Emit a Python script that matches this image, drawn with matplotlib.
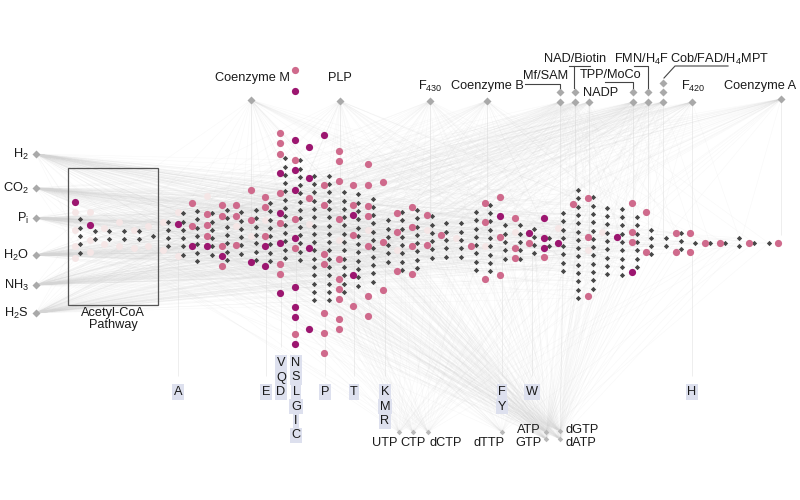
import matplotlib
matplotlib.use('Agg')
import matplotlib.pyplot as plt
from matplotlib.collections import LineCollection
from matplotlib.patches import Rectangle

plt.rcParams['font.family'] = ['Liberation Sans', 'DejaVu Sans']
plt.rcParams['mathtext.fontset'] = 'custom'
plt.rcParams['mathtext.rm'] = 'Liberation Sans'
plt.rcParams['mathtext.it'] = 'Liberation Sans:italic'

# ---------------- data ----------------
# reactions per step column (diamonds) and vertical centre of each column
reaction_counts = [5, 2, 2, 2, 2, 1, 4, 6, 7, 6, 7, 6, 7, 8, 13, 13, 16, 16, 13, 12,
                   11, 6, 8, 8, 6, 5, 5, 8, 9, 5, 5, 4, 2, 8, 14, 12, 9, 9, 7, 4,
                   2, 3, 1, 1, 1, 2, 1, 1]
reaction_centers = [236, 235, 235, 235, 235, 236, 234, 234, 236, 234, 235, 233, 235, 232, 208, 210,
                    238, 238, 242, 240, 240, 241, 241, 239, 237, 240, 240, 241, 238, 242, 242, 241,
                    242, 242, 244, 243, 241, 242, 242, 242, 242, 241, 243, 243, 243, 242, 243, 243]

# compounds (circles) per column: y levels
pink_nodes = {8: [203, 226], 9: [214, 225, 236], 10: [205, 216, 246, 266], 11: [205, 216, 245],
              12: [190, 220], 13: [197, 207, 236], 14: [133, 143, 154, 193, 223, 264, 274],
              15: [70, 160, 219, 248, 334], 16: [198], 17: [185, 205, 254, 264, 313, 333, 353],
              18: [151, 161, 181, 219, 259, 279, 289, 299, 319, 329], 19: [185, 205, 235, 306],
              20: [164, 185, 206, 216, 246, 296, 316], 21: [182, 242, 290], 22: [213, 232, 271],
              23: [207, 227, 246, 274], 24: [215, 245], 25: [235], 27: [246], 28: [203, 222, 279],
              29: [197, 237, 275], 30: [218, 248, 258], 31: [243], 32: [257], 34: [204],
              35: [198, 237, 296], 38: [203, 232, 242], 39: [212, 252], 41: [233, 252],
              42: [233, 252], 43: [243], 44: [243], 46: [243], 48: [243]}
magenta_nodes = {0: [202], 1: [225], 7: [224], 8: [246], 9: [246], 10: [256], 12: [262],
                 13: [246, 266], 14: [173, 213, 243, 293],
                 15: [91, 140, 170, 190, 238, 287, 307, 317, 344], 16: [147, 178, 248, 329],
                 17: [135], 19: [215, 275], 29: [216], 31: [233], 32: [218, 238, 248], 33: [243],
                 37: [237], 38: [272]}
faint_nodes = {0: [212, 230, 246, 258], 1: [212, 240, 252], 2: [228, 244], 3: [222, 246],
               4: [230, 248], 5: [226, 246], 6: [222, 250], 7: [212, 256], 9: [196], 11: [226],
               12: [236], 13: [220], 16: [224], 18: [240], 20: [230], 22: [250], 24: [230],
               26: [238], 28: [246], 30: [232], 33: [228], 35: [250], 36: [232]}

# inorganic substrates (left)
left_labels = ['H$_2$', 'CO$_2$', 'P$_\\mathrm{i}$', 'H$_2$O', 'NH$_3$', 'H$_2$S']
left_y = [154, 188, 218, 255, 285, 313]

# cofactors (top)
top_labels = ['Coenzyme M', 'PLP', 'F$_{430}$', 'Coenzyme B', 'F$_{420}$', 'Coenzyme A']
top_node_x = [251, 340, 430, 487, 692, 781]
top_node_y = [100, 101, 101, 101, 102, 99]
group_labels = ['Mf/SAM', 'NAD/Biotin', 'NADP', 'TPP/MoCo', 'FMN/H$_4$F', 'Cob/FAD/H$_4$MPT']
group_node_x = [560, 575, 589, 633, 648, 663]
group_node_n = [2, 2, 1, 2, 2, 3]

# amino acids (bottom)
aa_letters = ['A', 'E', 'V', 'Q', 'D', 'N', 'S', 'L', 'G', 'I', 'C', 'P', 'T', 'K', 'M', 'R',
              'F', 'Y', 'W', 'H']
aa_x = [178, 266, 281, 281, 281, 296, 296, 296, 296, 296, 296, 325, 354, 385, 385, 385,
        502, 502, 532, 692]
aa_row = [2, 2, 0, 1, 2, 0, 1, 2, 3, 4, 5, 2, 2, 2, 3, 4, 2, 3, 2, 2]

# nucleotides (bottom)
nt_labels = ['UTP', 'CTP', 'dCTP', 'dTTP', 'ATP', 'GTP', 'dGTP', 'dATP']
nt_node_x = [399, 413, 428, 502, 546, 546, 560, 560]
nt_node_y = [432, 432, 432, 432, 432, 439, 431, 439]

# ---------------- styles ----------------
X0, DX = 80.0, 14.65
VSP = 8.3
DIA_C = '#474747'
PINK = '#cf6a8c'
MAG = '#9c1670'
FAINT = '#f5e6e6'
SRC = '#a9a9a9'
EDGE = '#d4d4d4'
FS = 9.2

fig = plt.figure(figsize=(8, 5), dpi=100)
ax = fig.add_axes([0, 0, 1, 1])
ax.set_xlim(0, 800)
ax.set_ylim(500, 0)
ax.axis('off')

def colx(i):
    return X0 + DX * i

# reaction node coordinates
rx, ry = [], []
for i, (n, c) in enumerate(zip(reaction_counts, reaction_centers)):
    for k in range(n):
        rx.append(colx(i))
        ry.append(c + (k - (n - 1) / 2) * VSP)

# ---------------- edges ----------------
segs = []
N = len(rx)
for s, y in enumerate(left_y):
    for j in range(s % 3, N, 3):
        segs.append([(36, y), (rx[j], ry[j])])
top_pts = list(zip(top_node_x, top_node_y))
for gx, gn in zip(group_node_x, group_node_n):
    top_pts.append((gx, 102))
for s, (tx, ty) in enumerate(top_pts):
    for j in range(s % 9, N, 9):
        segs.append([(tx, ty), (rx[j], ry[j])])
for s, (nx, ny) in enumerate(zip(nt_node_x, nt_node_y)):
    step = 5 if nx in (546, 560) else 12
    for j in range(s % step, N, step):
        segs.append([(nx, ny), (rx[j], ry[j])])
ax.add_collection(LineCollection(segs, colors=EDGE, linewidths=0.4, alpha=0.16, zorder=1))

# vertical guide lines from amino acids and cofactors
vsegs = []
for x in sorted(set(aa_x)):
    rows = [r for xx, r in zip(aa_x, aa_row) if xx == x]
    vsegs.append([(x, 355 + 14.5 * min(rows) - 8), (x, 250)])
for x, y in zip(top_node_x, top_node_y):
    vsegs.append([(x, y + 4), (x, 235)])
for x in group_node_x:
    vsegs.append([(x, 106), (x, 240)])
ax.add_collection(LineCollection(vsegs, colors='#d8d8d8', linewidths=0.6, alpha=0.5, zorder=1))

# ---------------- nodes ----------------
for c, ys in faint_nodes.items():
    ax.plot([colx(c) - 5] * len(ys), ys, 'o', ms=5, color=FAINT, mec='none', zorder=2)
ax.plot(rx, ry, 'D', ms=2.7, color=DIA_C, mec='none', zorder=3)
for c, ys in pink_nodes.items():
    ax.plot([colx(c) - 5] * len(ys), ys, 'o', ms=5.2, color=PINK, mec='none', zorder=4)
for c, ys in magenta_nodes.items():
    ax.plot([colx(c) - 5] * len(ys), ys, 'o', ms=5.2, color=MAG, mec='none', zorder=4)

# left substrates
ax.plot([36] * len(left_y), left_y, 'D', ms=3.8, color=SRC, mec='none', zorder=3)
for lab, y in zip(left_labels, left_y):
    ax.text(29, y, lab, ha='right', va='center', fontsize=FS, color='#1a1a1a')

# acetyl-CoA box
ax.add_patch(Rectangle((68, 168), 90, 137, fill=False, ec='#555555', lw=0.9, zorder=5))
ax.text(113, 319, 'Acetyl-CoA\nPathway', ha='center', va='center', fontsize=FS,
        linespacing=1.0, color='#1a1a1a')

# top cofactors
ax.plot(top_node_x, top_node_y, 'D', ms=3.8, color=SRC, mec='none', zorder=3)
top_text_pos = [(252, 78), (340, 78), (430, 86), (487, 86), (693, 86), (760, 86)]
for lab, (tx, ty) in zip(top_labels, top_text_pos):
    ax.text(tx, ty, lab, ha='center', va='center', fontsize=FS, color='#1a1a1a')
for gx, gn in zip(group_node_x, group_node_n):
    ys = [102, 92, 83][:gn]
    ax.plot([gx] * gn, ys, 'D', ms=3.8, color=SRC, mec='none', zorder=3)
grp_text_pos = [(546, 76, 'center'), (575, 59, 'center'), (583, 93, 'left'),
                (611, 75, 'center'), (642, 59, 'center'), (720, 59, 'center')]
for lab, (tx, ty, ha) in zip(group_labels, grp_text_pos):
    ax.text(tx, ty, lab, ha=ha, va='center', fontsize=FS, color='#1a1a1a')
callouts = [[(525, 84), (560, 84), (560, 88)],
            [(569, 66), (590, 66)], [(574, 66), (574, 88)],
            [(605, 82), (633, 82), (633, 88)],
            [(634, 66), (648, 66), (648, 88)],
            [(728, 66), (675, 66), (664, 78)]]
for pts in callouts:
    ax.plot([p[0] for p in pts], [p[1] for p in pts], color='#444444', lw=0.8, zorder=5)

# amino acids
for lab, x, r in zip(aa_letters, aa_x, aa_row):
    ax.text(x, 363 + 14.5 * r, lab, ha='center', va='center', fontsize=FS, color='#1a1a1a',
            bbox=dict(boxstyle='square,pad=0.12', fc='#dde0ee', ec='none'), zorder=6)

# nucleotides
ax.plot(nt_node_x, nt_node_y, 'D', ms=2.8, color='#b8b8b8', mec='none', zorder=3)
nt_text_pos = [(385, 443, 'center'), (413, 443, 'center'), (446, 443, 'center'),
               (489, 443, 'center'), (541, 430, 'right'), (541, 443, 'right'),
               (566, 430, 'left'), (566, 443, 'left')]
for lab, (tx, ty, ha) in zip(nt_labels, nt_text_pos):
    ax.text(tx, ty, lab, ha=ha, va='center', fontsize=FS, color='#1a1a1a')

fig.savefig('out.png', dpi=100, facecolor='white')
